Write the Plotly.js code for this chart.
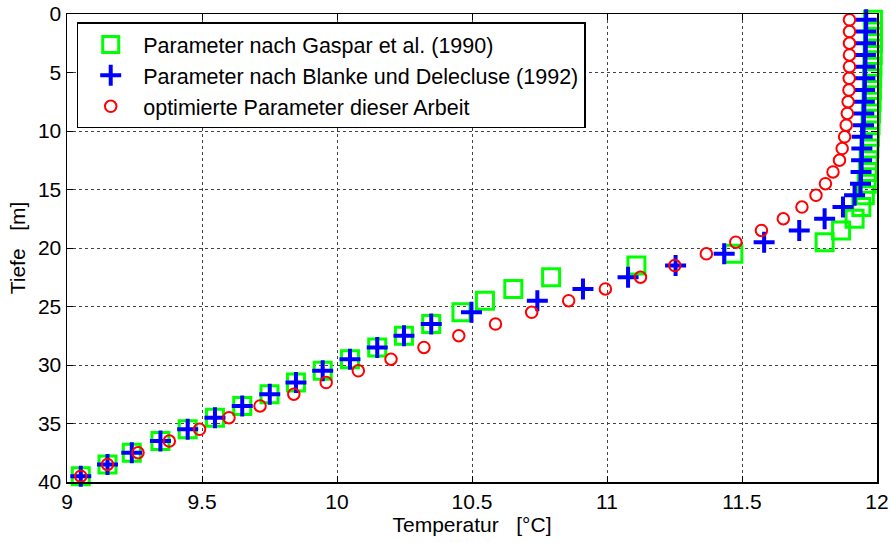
<!DOCTYPE html>
<html>
<head>
<meta charset="utf-8">
<script src="https://cdn.plot.ly/plotly-3.0.1.min.js"></script>
<style>html,body{margin:0;padding:0;background:#fff;}#chart{width:891px;height:543px;}</style>
</head>
<body>
<div id="chart"></div>
<script>
const depth = [0.5,1.5,2.5,3.5,4.5,5.5,6.5,7.5,8.5,9.5,10.5,11.5,12.5,13.5,14.5,15.5,16.5,17.5,18.5,19.5,
               20.5,21.5,22.5,23.5,24.5,25.5,26.5,27.5,28.5,29.5,30.5,31.5,32.5,33.5,34.5,35.5,36.5,37.5,38.5,39.5];

const gaspar = [11.985,11.985,11.985,11.984,11.983,11.982,11.981,11.980,11.978,11.976,
                11.974,11.972,11.969,11.966,11.962,11.955,11.942,11.917,11.867,11.806,
                11.468,11.109,10.793,10.653,10.548,10.461,10.349,10.248,10.149,10.048,
                9.947,9.848,9.750,9.649,9.548,9.447,9.346,9.240,9.150,9.051];

const blanke = [11.960,11.959,11.958,11.957,11.956,11.955,11.954,11.953,11.951,11.950,
                11.945,11.944,11.943,11.941,11.939,11.917,11.874,11.806,11.712,11.582,
                11.434,11.254,11.078,10.911,10.742,10.498,10.349,10.248,10.149,10.048,
                9.947,9.848,9.751,9.649,9.548,9.447,9.346,9.240,9.150,9.051];

const optimiert = [11.898,11.898,11.898,11.898,11.898,11.897,11.896,11.893,11.890,11.886,
                   11.880,11.871,11.861,11.837,11.809,11.774,11.722,11.653,11.572,11.477,
                   11.368,11.251,11.124,10.994,10.858,10.721,10.587,10.451,10.322,10.200,
                   10.079,9.960,9.840,9.715,9.600,9.491,9.379,9.263,9.150,9.051];

const names = ["Parameter nach Gaspar et al. (1990)",
               "Parameter nach Blanke und Delecluse (1992)",
               "optimierte Parameter dieser Arbeit"];

const xTicks = [9, 9.5, 10, 10.5, 11, 11.5, 12];
const yTicks = [0, 5, 10, 15, 20, 25, 30, 35, 40];

const traces = [
  {x: gaspar, y: depth, name: names[0], type: 'scatter', mode: 'markers', cliponaxis: false,
   marker: {symbol: 'square-open', size: 17, color: '#00ff00', line: {color: '#00ff00', width: 3}}},
  {x: blanke, y: depth, name: names[1], type: 'scatter', mode: 'markers', cliponaxis: false,
   marker: {symbol: 'cross-thin-open', size: 15, color: '#0000ff', line: {color: '#0000ff', width: 4}}},
  {x: optimiert, y: depth, name: names[2], type: 'scatter', mode: 'markers', cliponaxis: false,
   marker: {symbol: 'circle-open', size: 11.5, color: '#ff0000', line: {color: '#ff0000', width: 2}}}
];

const axisCommon = {
  showline: true, linecolor: '#000', linewidth: 1.5, mirror: 'ticks',
  ticks: 'inside', ticklen: 6, tickcolor: '#000', tickwidth: 1,
  showgrid: true, gridcolor: '#444', griddash: 'dot', gridwidth: 1,
  zeroline: false, tickfont: {size: 21, color: '#000'}
};

const layout = {
  width: 891, height: 543,
  margin: {l: 67, r: 14, t: 14, b: 61},
  paper_bgcolor: '#fff', plot_bgcolor: '#fff',
  font: {family: '"Liberation Sans", Arial, Helvetica, sans-serif', size: 21, color: '#000'},
  xaxis: Object.assign({}, axisCommon, {
    range: [9, 12], tickvals: xTicks, ticktext: xTicks.map(String),
    title: {text: 'Temperatur\u00a0\u00a0\u00a0[°C]', font: {size: 21}, standoff: 4}
  }),
  yaxis: Object.assign({}, axisCommon, {
    range: [40, 0], tickvals: yTicks, ticktext: yTicks.map(String),
    title: {text: 'Tiefe\u00a0\u00a0\u00a0[m]', font: {size: 21}, standoff: 6}
  }),
  showlegend: true,
  legend: {
    x: 0.012, y: 0.982, xanchor: 'left', yanchor: 'top',
    bgcolor: '#fff', bordercolor: '#000', borderwidth: 1.5,
    font: {size: 21.5, color: '#000'}, itemwidth: 55, tracegroupgap: 0
  }
};

Plotly.newPlot('chart', traces, layout, {displayModeBar: false, staticPlot: true});
</script>
</body>
</html>
